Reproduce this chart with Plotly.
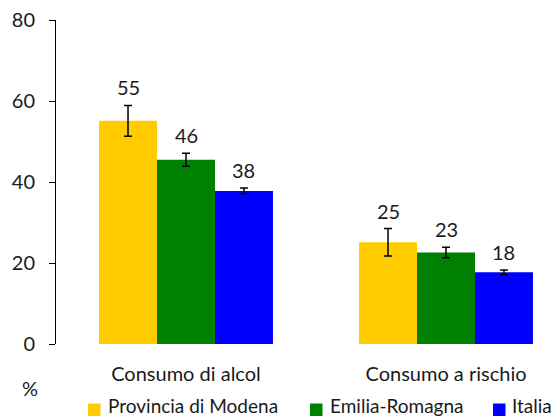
import plotly.graph_objects as go

categories = ["Consumo di alcol", "Consumo a rischio"]
series_names = ["Provincia di Modena", "Emilia-Romagna", "Italia"]
modena = [55.1, 25.1]
emilia = [45.5, 22.6]
italia = [37.8, 17.7]
modena_err = [3.8, 3.4]
emilia_err = [1.6, 1.3]
italia_err = [0.7, 0.55]
y_ticks = [0, 20, 40, 60, 80]

colors = ["#FFCC00", "#008000", "#0000FF"]
FONT = "Lato, Open Sans, sans-serif"
TXT = "#1a1a1a"
bargap = 0.331
w = (1 - bargap) / 3

W, H = 553, 418
L, R, T, B = 56, 0, 20, 74
pw, ph = W - L - R, H - T - B

def px(x):
    return (x - L) / pw

def py(y):
    return (H - B - y) / ph

values = [modena, emilia, italia]
errs = [modena_err, emilia_err, italia_err]
xs = list(range(len(categories)))

fig = go.Figure()
for k, (name, vals, err, col) in enumerate(zip(series_names, values, errs, colors)):
    fig.add_trace(go.Bar(
        x=xs, y=vals, name=name, marker=dict(color=col, line=dict(width=0)),
        error_y=dict(type="data", array=err, color="black", thickness=1.5, width=4),
        showlegend=False,
    ))

annotations = []
for k, (vals, err) in enumerate(zip(values, errs)):
    for i, v, e in zip(xs, vals, err):
        annotations.append(dict(
            x=i + (k - 1) * w, y=v + e, xref="x", yref="y", text=f"{round(v)}",
            showarrow=False, yshift=18, yanchor="middle", xanchor="center",
            font=dict(size=20, color=TXT, family=FONT),
        ))

annotations.append(dict(text="%", x=px(30), y=py(388), xref="paper", yref="paper",
                        showarrow=False, xanchor="center", yanchor="middle",
                        font=dict(size=20, color=TXT, family=FONT)))

# legend (manual, single row, as in the reference)
leg_sq_x = [88, 310, 493]
leg_tx_x = [106, 328, 510]
shapes = []
for name, col, sx, tx in zip(series_names, colors, leg_sq_x, leg_tx_x):
    shapes.append(dict(type="rect", xref="paper", yref="paper",
                       x0=px(sx), x1=px(sx + 12.5), y0=py(416), y1=py(403.5),
                       fillcolor=col, line=dict(width=0)))
    annotations.append(dict(text=name, x=px(tx), y=py(405.5), xref="paper", yref="paper",
                            showarrow=False, xanchor="left", yanchor="middle",
                            font=dict(size=19, color=TXT, family=FONT)))

fig.update_layout(
    width=W, height=H,
    margin=dict(l=L, r=R, t=T, b=B, autoexpand=False),
    paper_bgcolor="white", plot_bgcolor="white",
    barmode="group", bargap=bargap, bargroupgap=0,
    font=dict(family=FONT, size=20, color=TXT),
    showlegend=False,
    xaxis=dict(range=[-0.5, 1.4115], tickvals=xs, ticktext=categories,
               showline=False, showgrid=False, zeroline=False,
               ticks="outside", ticklen=12, tickcolor="rgba(0,0,0,0)",
               tickfont=dict(size=20)),
    yaxis=dict(range=[0, 80], tickvals=y_ticks, showgrid=False, zeroline=False,
               showline=True, linecolor="black", linewidth=1,
               ticks="outside", ticklen=6, tickcolor="black",
               tickfont=dict(size=20), ticklabelstandoff=10),
    annotations=annotations,
    shapes=shapes,
)
fig.write_html("out.html", config={"displayModeBar": False},
               post_script="document.body.style.margin='0';document.body.style.overflow='hidden';")
